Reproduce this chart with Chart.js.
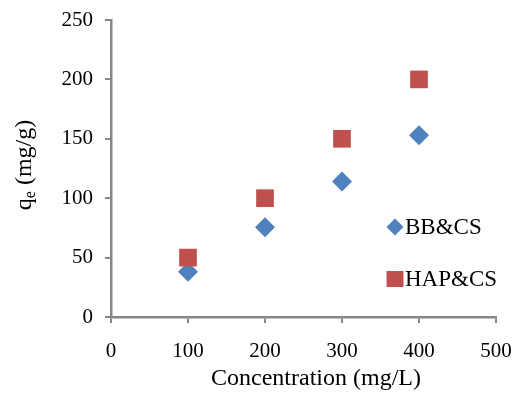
<!DOCTYPE html>
<html>
<head>
<meta charset="utf-8">
<script src="https://cdn.jsdelivr.net/npm/chart.js@4.4.0/dist/chart.umd.min.js"></script>
<style>
  html, body { margin: 0; padding: 0; background: #fff; }
  #wrap { width: 514px; height: 395px; position: relative; }
</style>
</head>
<body>
<div id="wrap"><canvas id="chart"></canvas></div>
<script>
// 数据
const concentrations = [100, 200, 300, 400];
const bbValues = [38, 75.5, 114, 153];
const hapValues = [50, 100, 150, 200];
const seriesNames = ['BB&CS', 'HAP&CS'];
const xTickValues = [0, 100, 200, 300, 400, 500];
const yTickValues = [0, 50, 100, 150, 200, 250];
const xTitle = 'Concentration (mg/L)';

const BLUE = '#4F81BD';
const RED = '#C0504D';
const AXIS = '#868686';
const SERIF = "'Liberation Serif', 'Times New Roman', serif";

function toPoints(values) {
    return concentrations.map((c, i) => ({ x: c, y: values[i] }));
}

// 坐标轴标题（y 轴带下标 e）
const axisTitlePlugin = {
    id: 'axisTitles',
    afterDraw(chart) {
        const ctx = chart.ctx;
        const big = '24px ' + SERIF;
        const small = '16px ' + SERIF;

        // x 轴标题
        ctx.save();
        ctx.fillStyle = '#000';
        ctx.font = big;
        ctx.textAlign = 'center';
        ctx.textBaseline = 'middle';
        ctx.fillText(xTitle, 316, 379);
        ctx.restore();

        // y 轴标题
        ctx.save();
        ctx.translate(25, 165);
        ctx.rotate(-Math.PI / 2);
        ctx.fillStyle = '#000';
        ctx.textBaseline = 'middle';
        ctx.font = big;
        const wq = ctx.measureText('q').width;
        const rest = ' (mg/g)';
        const wr = ctx.measureText(rest).width;
        ctx.font = small;
        const we = ctx.measureText('e').width;
        let x = -(wq + we + wr) / 2;
        ctx.font = big;
        ctx.fillText('q', x, 0);
        x += wq;
        ctx.font = small;
        ctx.fillText('e', x, 6);
        x += we;
        ctx.font = big;
        ctx.fillText(rest, x, 0);
        ctx.restore();
    }
};

// 图例画在绘图区内
const legendPlugin = {
    id: 'insideLegend',
    afterDraw(chart) {
        const ctx = chart.ctx;
        const area = chart.chartArea;
        const mx = area.left + 284;
        const rows = [area.top + 207, area.top + 259];
        ctx.save();
        ctx.font = '23px ' + SERIF;
        ctx.textBaseline = 'middle';
        chart.data.datasets.forEach((ds, i) => {
            const y = rows[i];
            ctx.fillStyle = ds.backgroundColor;
            ctx.beginPath();
            if (ds.pointStyle === 'rectRot') {
                const r = 8.5;
                ctx.moveTo(mx, y - r);
                ctx.lineTo(mx + r, y);
                ctx.lineTo(mx, y + r);
                ctx.lineTo(mx - r, y);
                ctx.closePath();
            } else {
                ctx.rect(mx - 8.5, y - 8, 17, 16);
            }
            ctx.fill();
            ctx.fillStyle = '#000';
            ctx.fillText(ds.label, mx + 10, y + 1);
        });
        ctx.restore();
    }
};

new Chart(document.getElementById('chart'), {
    type: 'scatter',
    data: {
        datasets: [
            {
                label: seriesNames[0],
                data: toPoints(bbValues),
                pointStyle: 'rectRot',
                pointRadius: 10,
                backgroundColor: BLUE,
                borderColor: BLUE,
                borderWidth: 0,
                order: 1
            },
            {
                label: seriesNames[1],
                data: toPoints(hapValues),
                pointStyle: 'rect',
                pointRadius: 12.5,
                backgroundColor: RED,
                borderColor: RED,
                borderWidth: 0,
                order: 0
            }
        ]
    },
    options: {
        responsive: true,
        maintainAspectRatio: false,
        animation: false,
        layout: { padding: { top: 20, right: 18, left: 0, bottom: 0 } },
        plugins: {
            legend: { display: false },
            tooltip: { enabled: false }
        },
        scales: {
            x: {
                type: 'linear',
                min: 0,
                max: 500,
                afterBuildTicks: axis => { axis.ticks = xTickValues.map(v => ({ value: v })); },
                afterFit: axis => {
                    axis.height = 78;
                    axis.paddingLeft = 0;
                    axis.paddingRight = 0;
                },
                ticks: {
                    color: '#000',
                    padding: 16,
                    font: { family: SERIF, size: 21 }
                },
                grid: {
                    drawOnChartArea: false,
                    drawTicks: true,
                    tickLength: 6,
                    color: AXIS,
                    lineWidth: 2
                },
                border: { color: AXIS, width: 2.5 }
            },
            y: {
                type: 'linear',
                min: 0,
                max: 250,
                afterBuildTicks: axis => { axis.ticks = yTickValues.map(v => ({ value: v })); },
                afterFit: axis => {
                    axis.width = 111;
                    axis.paddingTop = 0;
                    axis.paddingBottom = 0;
                },
                ticks: {
                    color: '#000',
                    padding: 12,
                    font: { family: SERIF, size: 21 }
                },
                grid: {
                    drawOnChartArea: false,
                    drawTicks: true,
                    tickLength: 6,
                    color: AXIS,
                    lineWidth: 2
                },
                border: { color: AXIS, width: 2.5 }
            }
        }
    },
    plugins: [axisTitlePlugin, legendPlugin]
});
</script>
</body>
</html>
